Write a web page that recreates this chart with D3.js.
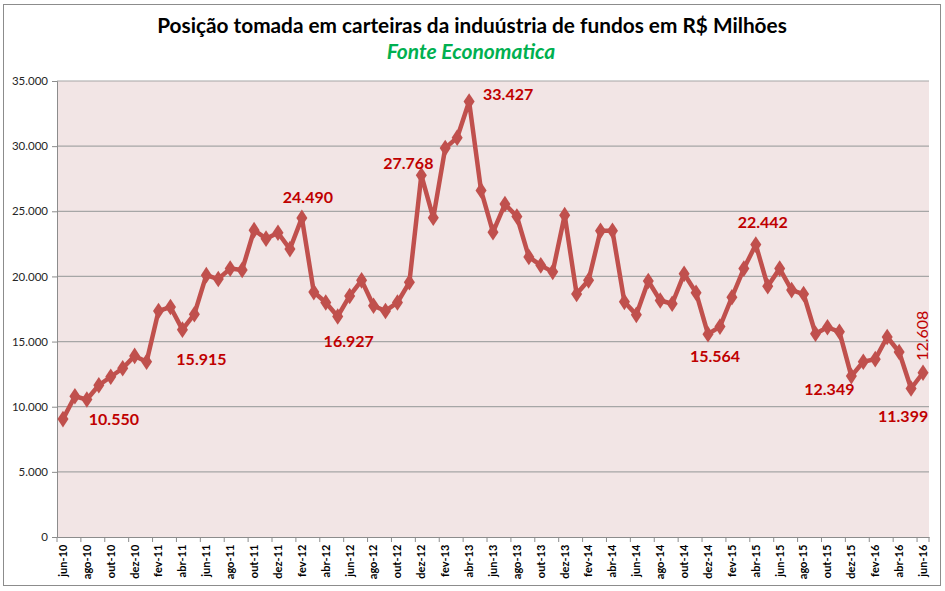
<!DOCTYPE html>
<html>
<head>
<meta charset="utf-8">
<script src="https://cdn.jsdelivr.net/npm/d3@7"></script>
<style>
  body { margin: 0; background: #fff; }
  svg { font-family: Lato, "Open Sans", sans-serif; }
</style>
</head>
<body>
<svg id="chart" width="945" height="591"></svg>
<script>
// monthly categories jun-10 .. jun-16
const months = ["jun-10","jul-10","ago-10","set-10","out-10","nov-10","dez-10",
  "jan-11","fev-11","mar-11","abr-11","mai-11","jun-11","jul-11","ago-11","set-11","out-11","nov-11","dez-11",
  "jan-12","fev-12","mar-12","abr-12","mai-12","jun-12","jul-12","ago-12","set-12","out-12","nov-12","dez-12",
  "jan-13","fev-13","mar-13","abr-13","mai-13","jun-13","jul-13","ago-13","set-13","out-13","nov-13","dez-13",
  "jan-14","fev-14","mar-14","abr-14","mai-14","jun-14","jul-14","ago-14","set-14","out-14","nov-14","dez-14",
  "jan-15","fev-15","mar-15","abr-15","mai-15","jun-15","jul-15","ago-15","set-15","out-15","nov-15","dez-15",
  "jan-16","fev-16","mar-16","abr-16","mai-16","jun-16"];

// posicao tomada, R$ milhoes
const values = [9050,10800,10550,11650,12300,12950,13900,
  13450,17350,17650,15915,17100,20100,19800,20600,20500,23550,22900,23350,
  22100,24490,18800,18000,16927,18500,19700,17750,17350,18000,19550,27768,
  24500,29850,30650,33427,26600,23400,25550,24600,21500,20850,20350,24700,
  18650,19700,23500,23500,18050,17050,19650,18150,17900,20200,18750,15564,
  16150,18400,20600,22442,19250,20600,18950,18650,15600,16100,15750,12349,
  13450,13650,15350,14200,11399,12608];

const yTicks = [0,5000,10000,15000,20000,25000,30000,35000];
const xTickLabels = months.filter((m, i) => i % 2 === 0);
const labelledMonths = ["ago-10","abr-11","fev-12","mai-12","dez-12","abr-13","dez-14","abr-15","dez-15","mai-16","jun-16"];

const title = "Posição tomada em carteiras da induústria de fundos em R$ Milhões";
const subtitle = "Fonte Economatica";

const svg = d3.select("#chart");
const plotLeft = 57, plotRight = 929, plotTop = 81, plotBottom = 537;

// frame
svg.append("rect")
    .attr("x", 3.5).attr("y", 4.5)
    .attr("width", 937).attr("height", 581)
    .attr("fill", "#fff")
    .attr("stroke", "#8c8c8c");

svg.append("text")
    .attr("x", 472).attr("y", 33)
    .attr("text-anchor", "middle")
    .attr("font-size", 20.8)
    .attr("font-weight", "bold")
    .attr("fill", "#000")
    .text(title);

svg.append("text")
    .attr("x", 471).attr("y", 59)
    .attr("text-anchor", "middle")
    .attr("font-size", 21)
    .attr("font-weight", "bold")
    .attr("font-style", "italic")
    .attr("fill", "#00b050")
    .text(subtitle);

const x = d3.scaleBand()
    .domain(months)
    .range([plotLeft, plotRight])
    .padding(0);
const y = d3.scaleLinear()
    .domain([0, 35000])
    .range([plotBottom, plotTop]);

const cx = m => x(m) + x.bandwidth() / 2;

// plot background
svg.append("rect")
    .attr("x", plotLeft).attr("y", plotTop)
    .attr("width", plotRight - plotLeft).attr("height", plotBottom - plotTop)
    .attr("fill", "#f2e5e5");

// gridlines
svg.append("g")
    .selectAll("line")
    .data(yTicks.filter(d => d > 0))
    .enter().append("line")
    .attr("x1", plotLeft).attr("x2", plotRight)
    .attr("y1", d => y(d)).attr("y2", d => y(d))
    .attr("stroke", "#a6a6a6")
    .attr("stroke-width", 1.2);

const fmt = v => d3.format(",")(v).replace(/,/g, ".");

// y axis
const yAxis = svg.append("g")
    .attr("transform", "translate(" + plotLeft + ",0)")
    .call(d3.axisLeft(y)
        .tickValues(yTicks)
        .tickSize(5)
        .tickPadding(4)
        .tickFormat(fmt));
yAxis.select(".domain").attr("stroke", "#8c8c8c");
yAxis.selectAll(".tick line").attr("stroke", "#8c8c8c");
yAxis.selectAll("text")
    .attr("font-size", 11.5)
    .attr("fill", "#262626")
    .attr("font-family", "Lato, sans-serif");

// x axis
const xAxis = svg.append("g")
    .attr("transform", "translate(0," + plotBottom + ")")
    .call(d3.axisBottom(x)
        .tickValues(xTickLabels)
        .tickSize(0)
        .tickPadding(8));
xAxis.select(".domain").attr("stroke", "#8c8c8c");
xAxis.selectAll("text")
    .attr("transform", "rotate(-90)")
    .attr("text-anchor", "end")
    .attr("dx", "-0.7em")
    .attr("dy", "0.35em")
    .attr("x", 0)
    .attr("y", 0)
    .attr("font-size", 11)
    .attr("font-weight", "bold")
    .attr("fill", "#000")
    .attr("font-family", "Lato, sans-serif");
// tick marks at category boundaries, every 2 months
xAxis.selectAll(".boundary")
    .data(xTickLabels.concat(["end"]))
    .enter().append("line")
    .attr("class", "boundary")
    .attr("x1", d => d === "end" ? plotRight : x(d))
    .attr("x2", d => d === "end" ? plotRight : x(d))
    .attr("y1", 0).attr("y2", 5)
    .attr("stroke", "#8c8c8c");

// series line
const data = months.map((m, i) => ({ month: m, value: values[i] }));
const line = d3.line()
    .x(d => cx(d.month))
    .y(d => y(d.value));

svg.append("path")
    .datum(data)
    .attr("fill", "none")
    .attr("stroke", "#c0504d")
    .attr("stroke-width", 4.5)
    .attr("stroke-linejoin", "round")
    .attr("d", line);

svg.selectAll(".marker")
    .data(data)
    .enter().append("path")
    .attr("class", "marker")
    .attr("d", d3.symbol().type(d3.symbolDiamond).size(80))
    .attr("transform", d => "translate(" + cx(d.month) + "," + y(d.value) + ") scale(1.15,1)")
    .attr("fill", "#c0504d");

// data labels: offset from the point (dx, dy), centred text
const placement = {
    "ago-10": [27, 25], "abr-11": [19, 35], "fev-12": [6, -15], "mai-12": [11, 31],
    "dez-12": [-13, -6], "abr-13": [39, -1], "dez-14": [7, 28], "abr-15": [7, -17],
    "dez-15": [-22, 19], "mai-16": [-8, 34]
};

svg.selectAll(".dlabel")
    .data(data.filter(d => labelledMonths.includes(d.month)))
    .enter().append("text")
    .attr("class", "dlabel")
    .attr("font-size", 16)
    .attr("fill", "#c00000")
    .attr("text-anchor", "middle")
    .attr("transform", d => {
        if (d.month === "jun-16") {
            return "translate(" + (cx(d.month) + 5) + "," + (y(d.value) - 37) + ") rotate(-90)";
        }
        const p = placement[d.month];
        return "translate(" + (cx(d.month) + p[0]) + "," + (y(d.value) + p[1]) + ")";
    })
    .attr("font-weight", d => d.month === "jun-16" ? "normal" : "bold")
    .text(d => fmt(d.value));
</script>
</body>
</html>
